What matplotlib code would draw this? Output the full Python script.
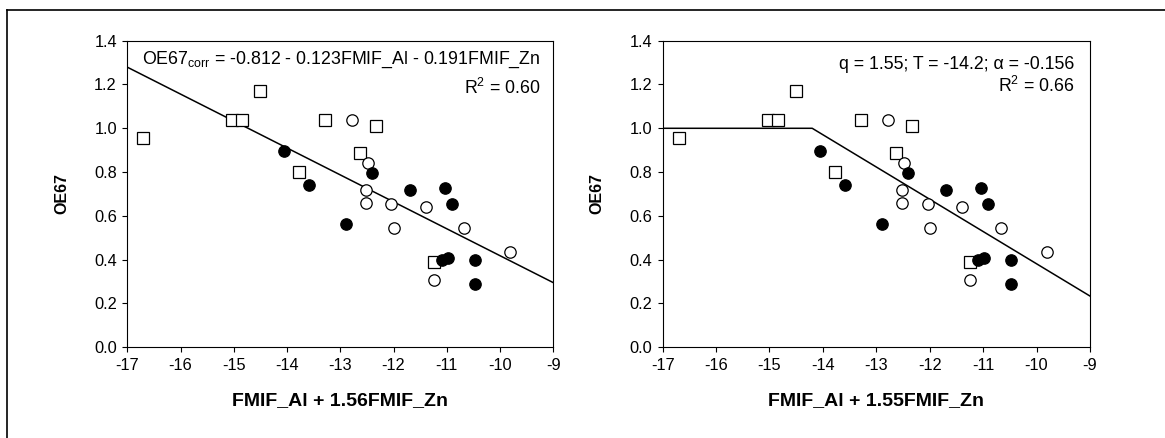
import matplotlib
matplotlib.use("Agg")
import matplotlib.pyplot as plt
from matplotlib.lines import Line2D

plt.rcParams['font.family'] = ['Liberation Sans', 'DejaVu Sans']
plt.rcParams['mathtext.fontset'] = 'custom'
plt.rcParams['mathtext.rm'] = 'Liberation Sans'
plt.rcParams['mathtext.it'] = 'Liberation Sans:italic'
plt.rcParams['mathtext.bf'] = 'Liberation Sans:bold'

# ---- data ----
sq_x = [-16.70, -15.03, -14.84, -14.51, -13.29, -12.34, -12.63, -13.78, -11.25]
sq_y = [0.957, 1.037, 1.037, 1.170, 1.037, 1.011, 0.888, 0.799, 0.391]

filled_x = [-14.05, -13.59, -12.41, -11.69, -11.04, -10.90, -12.89, -11.09, -10.98, -10.48, -10.48]
filled_y = [0.897, 0.739, 0.797, 0.720, 0.728, 0.653, 0.563, 0.399, 0.409, 0.397, 0.288]

open_x = [-12.79, -12.49, -12.52, -12.51, -12.04, -11.40, -12.00, -10.67, -9.81, -11.25]
open_y = [1.038, 0.843, 0.718, 0.657, 0.653, 0.640, 0.544, 0.544, 0.433, 0.306]

# left panel: linear fit OE67 = -0.812 - 0.123 x
fit1_x = [-17, -9]
fit1_y = [1.279, 0.295]

# right panel: threshold model
fit2_x = [-17, -14.2, -9]
fit2_y = [1.0, 1.0, 0.234]

xticks = [-17, -16, -15, -14, -13, -12, -11, -10, -9]
yticks = [0.0, 0.2, 0.4, 0.6, 0.8, 1.0, 1.2, 1.4]

panels = [
    dict(pos=[0.1093, 0.2071, 0.3657, 0.7000],
         xlabel='FMIF_Al + 1.56FMIF_Zn',
         fx=fit1_x, fy=fit1_y,
         t1=r'OE67$_{\mathregular{corr}}$ = -0.812 - 0.123FMIF_Al - 0.191FMIF_Zn',
         t1pos=(0.969, 0.937), t2pos=(0.969, 0.847), r2='0.60'),
    dict(pos=[0.5688, 0.2071, 0.3668, 0.7000],
         xlabel='FMIF_Al + 1.55FMIF_Zn',
         fx=fit2_x, fy=fit2_y,
         t1='q = 1.55; T = -14.2; α = -0.156',
         t1pos=(0.963, 0.922), t2pos=(0.963, 0.851), r2='0.66'),
]

fig = plt.figure(figsize=(11.65, 4.38), dpi=100)

# outer frame lines (top and left)
fig.add_artist(Line2D([7.3/1165, 1.0], [1 - 10/438, 1 - 10/438], color='black', lw=1.2,
                      transform=fig.transFigure))
fig.add_artist(Line2D([7.3/1165, 7.3/1165], [0.0, 1 - 10/438], color='black', lw=1.2,
                      transform=fig.transFigure))

for p in panels:
    ax = fig.add_axes(p['pos'])
    ax.plot(p['fx'], p['fy'], color='black', lw=1.1, zorder=2)
    ax.plot(sq_x, sq_y, linestyle='none', marker='s', ms=8.5, mfc='white', mec='black',
            mew=0.9, zorder=3)
    ax.plot(open_x, open_y, linestyle='none', marker='o', ms=8.2, mfc='white', mec='black',
            mew=0.9, zorder=3)
    ax.plot(filled_x, filled_y, linestyle='none', marker='o', ms=8.2, mfc='black', mec='black',
            mew=0.9, zorder=4)
    ax.set_xlim(-17, -9)
    ax.set_ylim(0, 1.4)
    ax.set_xticks(xticks)
    ax.set_xticklabels([str(t) for t in xticks])
    ax.set_yticks(yticks)
    ax.set_yticklabels([f'{t:.1f}' for t in yticks])
    ax.tick_params(direction='out', length=3.5, width=0.8, labelsize=11.8, pad=4)
    for s in ax.spines.values():
        s.set_linewidth(0.8)
    ax.set_xlabel(p['xlabel'], fontsize=14, fontweight='bold', labelpad=14)
    ax.set_ylabel('OE67', fontsize=11.5, fontweight='bold', labelpad=18)
    ax.text(p['t1pos'][0], p['t1pos'][1], p['t1'], transform=ax.transAxes,
            ha='right', va='center', fontsize=12.8)
    ax.text(p['t2pos'][0], p['t2pos'][1], r'R$^{\mathregular{2}}$ = ' + p['r2'],
            transform=ax.transAxes, ha='right', va='center', fontsize=12.8)

fig.savefig('out.png', dpi=100)
